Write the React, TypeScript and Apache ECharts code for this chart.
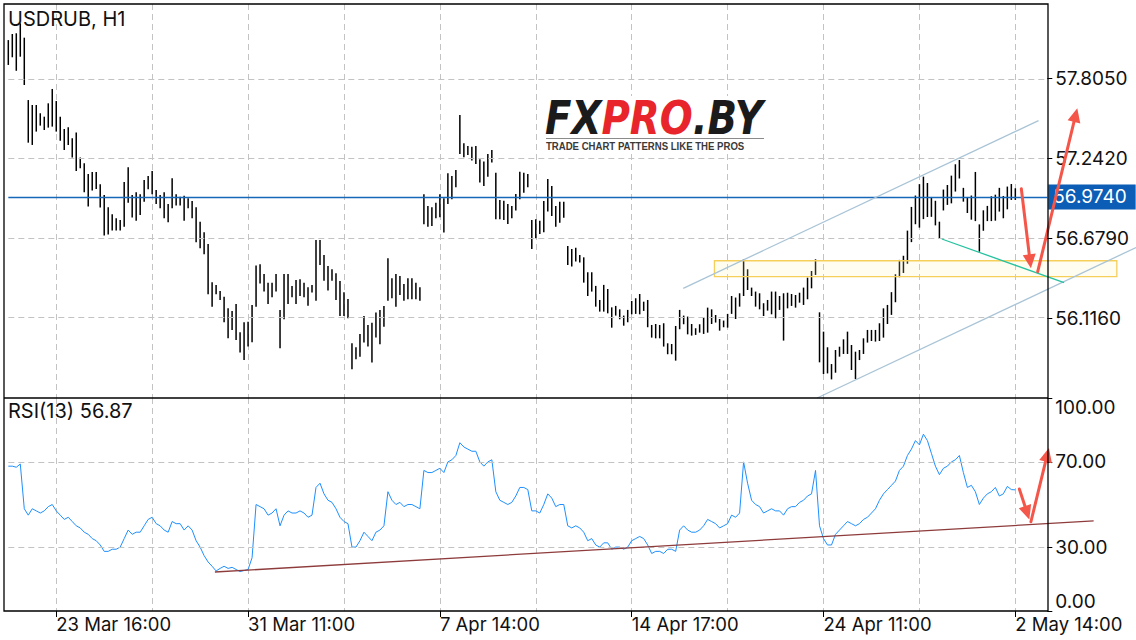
import React, { useEffect, useRef } from "react";
import * as echarts from "echarts";

// ---- axis / tick data ----
const barSlots = 261;
const tickBars = [12, 60, 108, 156, 204, 252];
const tickLabels = ["23 Mar 16:00", "31 Mar 11:00", "7 Apr 14:00", "14 Apr 17:00", "24 Apr 11:00", "2 May 14:00"];
const gridBars = [12, 36, 60, 84, 108, 132, 156, 180, 204, 228, 252];
const priceTicks = [56.116, 56.679, 57.242, 57.805];
const priceMin = 55.555;
const priceMax = 58.328;
const lastPrice = 56.974;
const rsiTicks = [0, 30, 70, 100];
const rsiLevels = [30, 70];
const symbolTitle = "USDRUB, H1";
const rsiTitle = "RSI(13)";

// ---- H1 bars (high / low) ----
const highs = [
  58.074, 58.117, 58.122, 58.192, 58.091, 57.652, 57.617, 57.617, 57.559, 57.535,
  57.629, 57.73, 57.645, 57.535, 57.448, 57.46, 57.383, 57.423, 57.247, 57.207,
  57.132, 57.146, 57.146, 57.059, 56.984, 56.897, 56.848, 56.82, 56.808, 57.075,
  57.179, 56.984, 57.003, 56.989, 57.09, 57.118, 57.153, 57.019, 56.984, 57.003,
  56.921, 57.101, 56.989, 56.972, 56.979, 56.96, 56.942, 56.897, 56.796, 56.721,
  56.639, 56.369, 56.351, 56.308, 56.268, 56.186, 56.167, 56.217, 56.017, 56.088,
  56.092, 56.21, 56.487, 56.497, 56.428, 56.367, 56.367, 56.428, 56.175, 56.428,
  56.428, 56.344, 56.386, 56.39, 56.367, 56.334, 56.351, 56.667, 56.667, 56.562,
  56.484, 56.461, 56.433, 56.379, 56.299, 56.252, 55.94, 55.912, 56.006, 56.133,
  56.069, 56.085, 56.156, 56.175, 56.203, 56.538, 56.398, 56.428, 56.414, 56.358,
  56.398, 56.398, 56.367, 56.334, 56.989, 56.907, 56.897, 56.93, 56.989, 56.961,
  57.136, 57.118, 57.16, 57.547, 57.348, 57.329, 57.324, 57.329, 57.235, 57.219,
  57.273, 57.301, 57.141, 56.949, 56.944, 56.921, 56.907, 56.991, 57.148, 57.141,
  57.132, 56.808, 56.813, 56.803, 56.942, 57.097, 57.047, 56.907, 56.937, 56.937,
  56.625, 56.604, 56.613, 56.562, 56.545, 56.44, 56.44, 56.344, 56.245, 56.351,
  56.322, 56.193, 56.203, 56.179, 56.135, 56.175, 56.238, 56.257, 56.287, 56.233,
  56.245, 56.069, 56.076, 56.069, 56.081, 55.94, 55.935, 56.062, 56.175, 56.135,
  56.128, 56.076, 56.046, 56.074, 56.121, 56.191, 56.179, 56.139, 56.111, 56.1,
  56.147, 56.273, 56.262, 56.292, 56.531, 56.461, 56.332, 56.304, 56.292, 56.222,
  56.245, 56.304, 56.304, 56.273, 56.292, 56.296, 56.287, 56.28, 56.296, 56.332,
  56.402, 56.449, 56.531, 56.158, 56.022, 55.912, 55.794, 55.893, 55.916, 55.968,
  56.022, 55.928, 55.881, 55.893, 55.975, 56.034, 56.034, 56.034, 56.081, 56.186,
  56.21, 56.3, 56.426, 56.527, 56.556, 56.733, 56.9, 56.98, 57.06, 57.113,
  57.068, 56.97, 56.943, 56.796, 57.022, 57.054, 57.12, 57.2, 57.23, 57.034,
  56.967, 56.98, 57.146, 56.777, 56.876, 56.907, 56.975, 56.986, 57.034, 56.977,
  57.043, 57.061, 57.031,
];
const lows = [
  57.899, 57.953, 57.858, 57.957, 57.758, 57.352, 57.336, 57.43, 57.472, 57.441,
  57.458, 57.465, 57.43, 57.366, 57.301, 57.336, 57.247, 57.153, 57.172, 57.003,
  56.902, 57.015, 57.026, 56.895, 56.698, 56.705, 56.733, 56.733, 56.733, 56.761,
  56.93, 56.825, 56.803, 56.843, 56.937, 57.024, 56.989, 56.921, 56.89, 56.82,
  56.792, 56.89, 56.909, 56.909, 56.803, 56.89, 56.82, 56.651, 56.609, 56.566,
  56.285, 56.198, 56.285, 56.245, 56.088, 55.975, 56.034, 55.964, 55.876, 55.823,
  55.917, 55.947, 56.198, 56.36, 56.304, 56.217, 56.264, 56.304, 55.905, 56.109,
  56.217, 56.264, 56.217, 56.273, 56.264, 56.205, 56.297, 56.24, 56.491, 56.381,
  56.311, 56.381, 56.245, 56.133, 56.133, 56.116, 55.758, 55.827, 55.846, 55.945,
  55.917, 55.804, 55.98, 55.933, 56.057, 56.24, 56.257, 56.198, 56.28, 56.24,
  56.25, 56.25, 56.25, 56.24, 56.777, 56.761, 56.766, 56.82, 56.827, 56.719,
  56.921, 56.953, 57.038, 57.273, 57.249, 57.265, 57.226, 57.202, 57.071, 57.047,
  57.113, 57.212, 56.813, 56.813, 56.808, 56.78, 56.82, 56.874, 56.953, 57.0,
  57.038, 56.604, 56.679, 56.709, 56.721, 56.867, 56.836, 56.761, 56.789, 56.824,
  56.491, 56.48, 56.515, 56.508, 56.367, 56.273, 56.304, 56.198, 56.163, 56.163,
  56.151, 56.05, 56.135, 56.109, 56.064, 56.088, 56.144, 56.147, 56.144, 56.168,
  56.053, 55.98, 55.975, 55.975, 55.917, 55.863, 55.863, 55.818, 56.039, 56.074,
  56.003, 55.994, 55.999, 56.015, 56.006, 56.015, 56.076, 56.086, 56.029, 56.053,
  56.05, 56.147, 56.111, 56.198, 56.273, 56.315, 56.273, 56.198, 56.179, 56.132,
  56.17, 56.144, 56.116, 56.175, 55.959, 56.186, 56.203, 56.191, 56.226, 56.21,
  56.25, 56.327, 56.421, 55.806, 55.724, 55.728, 55.686, 55.733, 55.846, 55.865,
  55.865, 55.752, 55.688, 55.822, 55.865, 55.945, 55.956, 55.952, 55.956, 55.98,
  56.076, 56.14, 56.229, 56.405, 56.435, 56.5, 56.652, 56.778, 56.754, 56.814,
  56.829, 56.83, 56.77, 56.675, 56.875, 56.914, 56.925, 57.008, 57.1, 56.937,
  56.857, 56.81, 56.8, 56.585, 56.732, 56.8, 56.8, 56.803, 56.867, 56.82,
  56.883, 56.949, 56.949,
];

// ---- RSI(13) ----
const rsi = [
  68, 68, 67.5, 69, 48, 45, 48, 47, 46, 47,
  49, 50, 47, 45, 43, 44, 42, 40, 39, 37,
  36, 34, 33, 31, 28, 28, 29, 29, 30, 34,
  38, 36, 37, 37, 40, 43, 44, 41, 40, 38,
  37, 42, 41, 41, 38, 40, 38, 33, 30, 26,
  23, 21, 18.8, 20, 21, 20, 20.5, 19.5, 18.5, 19,
  19.5, 25, 50, 49, 48, 45, 46, 48, 40, 45,
  47, 46, 46, 47, 46, 44, 45, 58, 60, 55,
  52, 51, 48, 44, 42, 41, 30, 30, 33, 37,
  35, 33, 37, 38, 40, 56, 52, 50, 51, 49,
  50, 50, 49, 48, 66, 65, 65, 66, 67, 65,
  70, 71, 73, 79, 77, 76, 75, 75, 70, 68,
  70, 71, 56, 52, 51, 50, 51, 54, 58, 58,
  57, 47, 47, 46, 50, 55, 53, 49, 50, 50,
  40, 39, 40, 39, 37, 33, 34, 31, 30, 32,
  32, 29, 30, 30, 29, 30, 33, 34, 35, 34,
  31, 27, 28, 28, 27, 29, 29, 28, 38, 40,
  38, 37, 37, 38, 40, 43, 42, 41, 39, 40,
  41, 45, 44, 46, 70, 60, 52, 50, 49, 46,
  47, 48, 47, 47, 45, 48, 49, 49, 51, 52,
  54, 55, 66, 40, 34, 31, 31, 36, 38, 40,
  42, 41, 40, 41, 43, 44, 46, 48, 52, 55,
  57, 59, 61, 66, 68, 73, 76, 80, 78, 83,
  80, 74, 68, 64, 67, 68, 70, 71, 73, 65,
  58, 59, 56, 50, 53, 55, 56, 58, 54, 55,
  58.5, 57, 56.87,
];

// ---- drawn annotations, in (bar index, price / rsi) ----
const channelUpper = [[168.9, 56.327], [257.8, 57.507]];
const channelLower = [[202.4, 55.555], [282.2, 56.614]];
const zoneBox = [[176.7, 56.521], [277.4, 56.409]];
const supportLine = [[233.6, 56.674], [264.2, 56.367]];
const priceArrowDown = [[253.5, 57.028], [255.9, 56.468]];
const priceArrowUp = [[257.6, 56.444], [267.5, 57.594]];
const rsiTrend = [[51.7, 18.3], [271.6, 42.3]];
const rsiArrowDown = [[253.0, 57.3], [255.5, 43.0]];
const rsiArrowUp = [[255.9, 41.9], [260.4, 76.5]];

const FONT = "Inter, 'Helvetica Neue', Arial, sans-serif";
const GRID_COLOR = "#c3c3c3";
const ARROW = "#f4564a";

const categories = Array.from({ length: barSlots }, (_, i) => String(i));

function buildOption(): any {
  const xBase = (gridIndex: number, withLabels: boolean) => ({
    type: "category",
    gridIndex,
    data: categories,
    boundaryGap: false,
    axisLine: { show: false },
    axisTick: withLabels
      ? { show: true, interval: (i: number) => tickBars.includes(i), length: 6, lineStyle: { color: "#000", width: 1 } }
      : { show: false },
    axisLabel: withLabels
      ? {
          show: true,
          interval: (i: number) => tickBars.includes(i),
          formatter: (v: string) => {
            const k = tickBars.indexOf(Number(v));
            return k >= 0 ? tickLabels[k] : "";
          },
          align: "left",
          margin: 3,
          fontSize: 18.5,
          fontFamily: FONT,
          color: "#111",
        }
      : { show: false },
    splitLine: {
      show: true,
      interval: (i: number) => gridBars.includes(i),
      lineStyle: { color: GRID_COLOR, width: 1, type: [6, 4] },
    },
  });

  return {
    animation: false,
    backgroundColor: "#fff",
    textStyle: { fontFamily: FONT },
    grid: [
      { left: 8.3, width: 1039, top: 4, height: 394, outerBoundsMode: "none", containLabel: false },
      { left: 8.3, width: 1039, top: 398, height: 213, outerBoundsMode: "none", containLabel: false },
    ],
    xAxis: [xBase(0, false), xBase(1, true)],
    yAxis: [
      {
        type: "value",
        gridIndex: 0,
        position: "right",
        min: priceMin,
        max: priceMax,
        axisLine: { show: false },
        splitLine: { show: false },
        axisTick: { show: true, customValues: priceTicks, length: 5, lineStyle: { color: "#000" } },
        axisLabel: {
          show: true,
          customValues: priceTicks,
          formatter: (v: number) => v.toFixed(4),
          margin: 8,
          fontSize: 19,
          fontFamily: FONT,
          color: "#111",
        },
      },
      {
        type: "value",
        gridIndex: 1,
        position: "right",
        min: 0,
        max: 100,
        axisLine: { show: false },
        splitLine: { show: false },
        axisTick: { show: true, customValues: rsiTicks, length: 5, lineStyle: { color: "#000" } },
        axisLabel: {
          show: true,
          customValues: rsiTicks,
          formatter: (v: number) => v.toFixed(2),
          margin: 8,
          fontSize: 19,
          fontFamily: FONT,
          color: "#111",
          verticalAlignMaxLabel: "top",
          verticalAlignMinLabel: "bottom",
        },
      },
    ],
    series: [
      {
        type: "line",
        name: "priceGrid",
        xAxisIndex: 0,
        yAxisIndex: 0,
        data: [],
        z: 1,
        silent: true,
        markLine: {
          silent: true,
          symbol: "none",
          animation: false,
          data: [
            ...priceTicks.map((v) => ({
              yAxis: v,
              label: { show: false },
              lineStyle: { color: GRID_COLOR, width: 1, type: [6, 4] },
            })),
            {
              yAxis: lastPrice,
              lineStyle: { color: "#1767b9", width: 1.3, type: "solid" },
              label: {
                show: true,
                position: "end",
                distance: 1,
                formatter: lastPrice.toFixed(4),
                backgroundColor: "#0b5db5",
                color: "#fff",
                fontSize: 19,
                fontFamily: FONT,
                padding: [3, 9, 3, 5],
              },
            },
          ],
        },
      },
      {
        type: "custom",
        name: "USDRUB",
        xAxisIndex: 0,
        yAxisIndex: 0,
        z: 3,
        silent: true,
        encode: { x: 0, y: [1, 2] },
        data: highs.map((h, i) => [i, h, lows[i]]),
        renderItem: (_params: any, api: any) => {
          const i = api.value(0);
          const top = api.coord([i, api.value(1)]);
          const bot = api.coord([i, api.value(2)]);
          return {
            type: "line",
            shape: { x1: top[0], y1: top[1], x2: bot[0], y2: bot[1] },
            style: { stroke: "#000", lineWidth: 1.5 },
          };
        },
      },
      {
        type: "line",
        name: "rsiGrid",
        xAxisIndex: 1,
        yAxisIndex: 1,
        data: [],
        z: 1,
        silent: true,
        markLine: {
          silent: true,
          symbol: "none",
          animation: false,
          label: { show: false },
          lineStyle: { color: GRID_COLOR, width: 1, type: [6, 4] },
          data: rsiLevels.map((v) => ({ yAxis: v })),
        },
      },
      {
        type: "line",
        name: "RSI",
        xAxisIndex: 1,
        yAxisIndex: 1,
        data: rsi,
        z: 3,
        symbol: "none",
        showSymbol: false,
        lineStyle: { color: "#1e8fff", width: 1 },
        silent: true,
      },
    ],
  };
}

function buildGraphics(chart: any): any[] {
  const toPx = (g: number, pt: number[]) => {
    const x0 = chart.convertToPixel({ xAxisIndex: g }, 0);
    const x1 = chart.convertToPixel({ xAxisIndex: g }, barSlots - 1);
    const x = x0 + ((x1 - x0) * pt[0]) / (barSlots - 1);
    const y = chart.convertToPixel({ yAxisIndex: g }, pt[1]);
    return [x, y];
  };
  const seg = (g: number, pts: number[][], color: string, w: number, z = 8) => {
    const a = toPx(g, pts[0]);
    const b = toPx(g, pts[1]);
    return { type: "line", z, silent: true, shape: { x1: a[0], y1: a[1], x2: b[0], y2: b[1] }, style: { stroke: color, lineWidth: w } };
  };
  const arrow = (g: number, pts: number[][]) => {
    const a = toPx(g, pts[0]);
    const b = toPx(g, pts[1]);
    const dx = b[0] - a[0];
    const dy = b[1] - a[1];
    const len = Math.hypot(dx, dy);
    const ux = dx / len;
    const uy = dy / len;
    const head = 14;
    const bx = b[0] - ux * head;
    const by = b[1] - uy * head;
    const px = -uy;
    const py = ux;
    const hw = 6.5;
    return [
      { type: "line", z: 12, silent: true, shape: { x1: a[0], y1: a[1], x2: bx + ux * 2, y2: by + uy * 2 }, style: { stroke: ARROW, lineWidth: 3, lineCap: "round" } },
      {
        type: "polygon",
        z: 12,
        silent: true,
        shape: { points: [[b[0], b[1]], [bx + px * hw, by + py * hw], [bx - px * hw, by - py * hw]] },
        style: { fill: ARROW },
      },
    ];
  };

  const box0 = toPx(0, zoneBox[0]);
  const box1 = toPx(0, zoneBox[1]);

  const out: any[] = [
    // frame
    { type: "rect", z: 20, silent: true, shape: { x: 4, y: 4, width: 1044, height: 607 }, style: { fill: "none", stroke: "#000", lineWidth: 1.3 } },
    { type: "line", z: 20, silent: true, shape: { x1: 4, y1: 398, x2: 1048, y2: 398 }, style: { stroke: "#000", lineWidth: 1.3 } },
    // titles
    { type: "text", z: 20, x: 8, y: 9, style: { text: symbolTitle, fontSize: 20, fontFamily: FONT, fill: "#111" } },
    { type: "text", z: 20, x: 8, y: 401, style: { text: `${rsiTitle} ${rsi[rsi.length - 1].toFixed(2)}`, fontSize: 20, fontFamily: FONT, fill: "#111" } },
    // logo
    { type: "rect", z: 5, silent: true, shape: { x: 541, y: 96, width: 228, height: 56 }, style: { fill: "#fff" } },
    {
      type: "group",
      z: 6,
      x: 545,
      y: 95,
      scaleY: 1.18,
      children: [
        {
          type: "text",
          z: 6,
          x: 0,
          y: 0,
          style: {
            text: "{a|FX}{b|PRO}{a|.BY}",
            rich: {
              a: { fill: "#1b1b1b", fontSize: 38.8, fontWeight: "bold", fontStyle: "italic", fontFamily: "'DejaVu Sans'" },
              b: { fill: "#e7252b", fontSize: 38.8, fontWeight: "bold", fontStyle: "italic", fontFamily: "'DejaVu Sans'" },
            },
            fontSize: 38.8,
            fontWeight: "bold",
            fontStyle: "italic",
            fontFamily: "'DejaVu Sans'",
          },
        },
      ],
    },
    { type: "line", z: 6, silent: true, shape: { x1: 546, y1: 138.5, x2: 764, y2: 138.5 }, style: { stroke: "#8a8a8a", lineWidth: 1 } },
    {
      type: "group",
      z: 6,
      x: 546,
      y: 141,
      scaleY: 1.15,
      children: [
        {
          type: "text",
          z: 6,
          style: { text: "TRADE CHART PATTERNS LIKE THE PROS", fontSize: 9.6, fontWeight: "bold", fontFamily: "'Liberation Sans', Arial", fill: "#3a3a3a" },
        },
      ],
    },
    // zone
    {
      type: "rect",
      z: 7,
      silent: true,
      shape: { x: box0[0], y: box0[1], width: box1[0] - box0[0], height: box1[1] - box0[1] },
      style: { fill: "rgba(255, 236, 170, 0.18)", stroke: "#f6cf5a", lineWidth: 1.3 },
    },
    seg(0, channelUpper, "#a9c4d6", 1.3),
    seg(0, channelLower, "#a9c4d6", 1.3),
    seg(0, supportLine, "#27c2a0", 1.3),
    seg(1, rsiTrend, "#8e3b3b", 1.3),
    ...arrow(0, priceArrowDown),
    ...arrow(0, priceArrowUp),
    ...arrow(1, rsiArrowDown),
    ...arrow(1, rsiArrowUp),
  ];
  return out;
}

export default function App() {
  const ref = useRef<HTMLDivElement>(null);
  useEffect(() => {
    const chart = echarts.init(ref.current as HTMLDivElement, null, { renderer: "svg" });
    chart.setOption(buildOption());
    chart.setOption({ graphic: buildGraphics(chart) });
    return () => chart.dispose();
  }, []);
  return (
    <div
      ref={ref}
      style={{ position: "fixed", left: 0, top: 0, width: 1136, height: 640, background: "#fff" }}
    />
  );
}
